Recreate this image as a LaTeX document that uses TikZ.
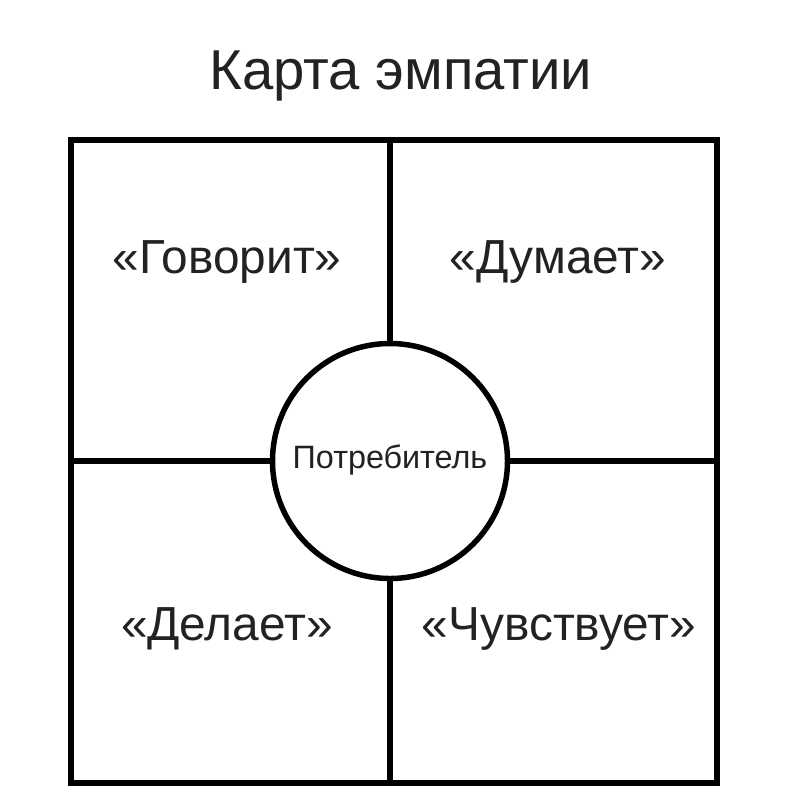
\documentclass[tikz,border=0pt]{standalone}
\usepackage{fontspec}
\setmainfont{Liberation Sans}
\usetikzlibrary{calc}
\definecolor{ink}{HTML}{222222}

\begin{document}
\begin{tikzpicture}[x=0.25mm, y=-0.25mm,
		frame/.style={line width=3.9pt, draw=black},
		label/.style={anchor=base, text=ink, inner sep=0pt}]
			\useasboundingbox (0, 0) rectangle (800, 800);
			
			\coordinate (NW) at (71, 140);
			\coordinate (SE) at (717, 783);
			\coordinate (T) at (390, 140);
			\coordinate (B) at (390, 783);
			\coordinate (L) at (71, 461);
			\coordinate (R) at (717, 461);
			
			\node[label, font=\fontsize{40}{44}\selectfont] (title) at (401, 89) {Карта эмпатии};
			
			\draw[frame] (NW) rectangle (SE);
			\node[frame, circle, minimum size=235*0.25mm, inner sep=0pt, fill=white] (user) at (390, 461) {};
			\draw[frame] (T) -- (user);
			\draw[frame] (B) -- (user);
			\draw[frame] (L) -- (user);
			\draw[frame] (R) -- (user);
			
			\node[label, font=\fontsize{23}{26}\selectfont] (center) at (390, 468) {Потребитель};
			\node[label, font=\fontsize{34}{38}\selectfont] (says) at (227, 273) {«Говорит»};
			\node[label, font=\fontsize{34}{38}\selectfont] (thinks) at (558, 273) {«Думает»};
			\node[label, font=\fontsize{34}{38}\selectfont] (does) at (227, 640) {«Делает»};
			\node[label, font=\fontsize{34}{38}\selectfont] (feels) at (559, 640) {«Чувствует»};
			\end{tikzpicture}
\end{document}
